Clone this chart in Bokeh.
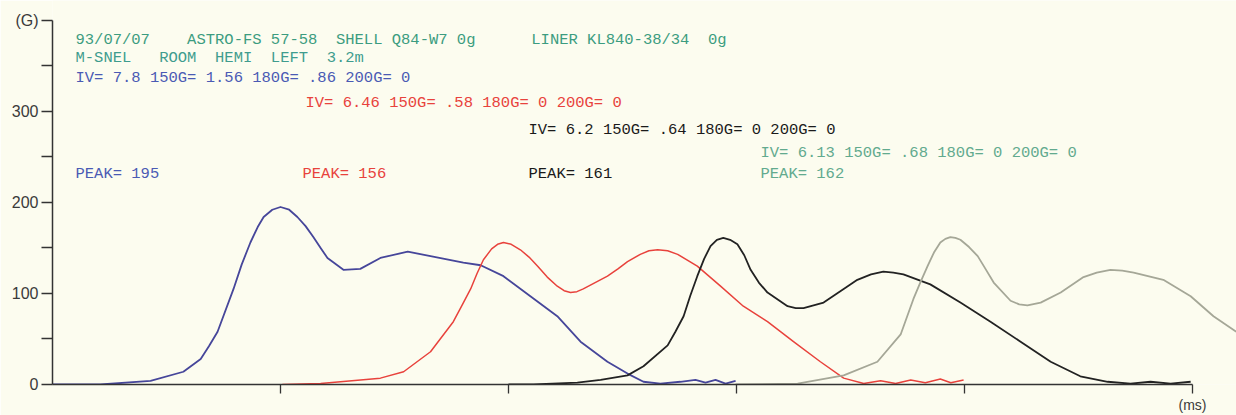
from bokeh.plotting import figure
from bokeh.models import FixedTicker, Range1d
from bokeh.core.properties import value
from bokeh.embed import file_html
from bokeh.resources import INLINE

# ---------------- data (time in ms, level in G) ----------------
blue_x = [0, 10.5, 21.5, 28.7, 32.5, 34.3, 36.2, 39.7, 41.5, 43.4, 45.0, 46.3, 48.2, 50.0, 51.9,
          53.7, 55.5, 57.2, 58.8, 60.3, 63.8, 67.5, 71.9, 77.9, 82.9, 90.1, 93.9, 98.9, 104.8,
          110.7, 115.8, 121.7, 126.1, 129.6, 133.3, 137.7, 141.0, 143.2, 145.4, 147.6, 149.8]
blue_y = [0, 0, 4, 14, 28, 42, 58, 105, 132, 156, 173, 184, 192, 195, 192,
          184, 174, 162, 150, 139, 126, 127, 139, 146, 141, 134, 131, 119, 97,
          75, 47, 25, 12, 3, 1, 3, 5, 2, 5, 1, 4]

red_x = [50.4, 58.8, 71.9, 77.0, 82.9, 87.9, 89.8, 91.7, 93.1, 94.5, 96.3, 97.6, 98.9, 100.6,
         102.6, 104.5, 106.4, 108.5, 110.7, 112.2, 113.6, 115.0, 116.4, 121.7, 124.0, 126.1,
         128.9, 130.8, 132.7, 134.9, 137.1, 141.4, 146.5, 151.5, 156.8, 162.5, 168.4, 173.5,
         177.9, 181.6, 184.9, 188.2, 191.4, 194.7, 197.0, 199.8]
red_y = [0, 1, 7, 14, 36, 69, 87, 105, 122, 137, 149, 154, 156, 154,
         148, 140, 130, 118, 108, 103, 101, 102, 105, 119, 127, 135,
         143, 147, 148, 147, 143, 130, 108, 86, 69, 47, 25, 7,
         1, 4, 1, 5, 2, 6, 2, 5]

black_x = [100, 105.5, 115.1, 120.2, 126.1, 129.6, 134.9, 136.6, 138.4, 139.9, 141.4, 142.9, 144.3,
           145.7, 147.1, 148.6, 150.2, 151.7, 153.1, 154.9, 156.8, 161.2, 163.0, 164.7, 169.1,
           173.5, 176.5, 179.5, 182.2, 184.4, 186.6, 192.5, 199.1, 205.7, 212.3, 218.9, 225.4,
           231.4, 236.4, 240.8, 245.2, 249.6]
black_y = [0, 0, 2, 5, 10, 20, 43, 58, 75, 98, 119, 138, 152,
           159, 161, 159, 154, 142, 126, 112, 101, 86, 84, 84, 90,
           105, 115, 121, 124, 123, 121, 110, 90, 69, 47, 25, 9,
           3, 1, 3, 1, 3]

gray_x = [149.8, 163.4, 173.5, 180.9, 186.0, 188.8, 190.3, 191.9, 193.3, 194.7, 195.8, 196.9,
          198.0, 199.1, 201.0, 202.9, 204.6, 206.4, 210.1, 212.0, 213.8, 216.7, 221.1, 226.1,
          229.0, 232.0, 234.6, 237.1, 243.6, 249.6, 254.6, 259.6]
gray_y = [0, 1, 10, 25, 55, 94, 112, 130, 145, 156, 160, 162,
          161, 159, 151, 141, 127, 112, 92, 88, 87, 90, 101, 118,
          123, 126, 125, 123, 115, 97, 75, 58]

y_ticks = [0, 100, 200, 300, 400]
y_minor = [50, 150, 250, 350]
y_tick_labels = {0: "0", 100: "100", 200: "200", 300: "300", 400: "(G)"}
x_end_tick = [250]
x_minor = [50, 100, 150, 200]
x_tick_labels = {250: "(ms)"}

header_lines = [
    "93/07/07    ASTRO-FS 57-58  SHELL Q84-W7 0g      LINER KL840-38/34  0g",
    "M-SNEL   ROOM  HEMI  LEFT  3.2m",
]
iv_lines = [
    "IV= 7.8 150G= 1.56 180G= .86 200G= 0",
    "IV= 6.46 150G= .58 180G= 0 200G= 0",
    "IV= 6.2 150G= .64 180G= 0 200G= 0",
    "IV= 6.13 150G= .68 180G= 0 200G= 0",
]
peak_values = [195, 156, 161, 162]

# ---------------- style / layout ----------------
BG = "#fcfcef"
series_colors = ["#46469a", "#e8423c", "#222222", "#a5a797"]
text_colors = ["#4a5ab4", "#e8423c", "#1a1a1a", "#62aa8e"]
header_color = "#3c9c80"
MONO = "Liberation Mono"

W, H = 1236, 415
PX_PER_MS = 4.56
PX_PER_G = 0.915
LEFT_PX = 52      # canvas x of time 0
ZERO_PX = 386     # canvas y of level 0


def X(px):
    return (px - LEFT_PX) / PX_PER_MS


def Y(py):
    return (ZERO_PX - py) / PX_PER_G


p = figure(width=W, height=H, output_backend="svg", toolbar_location=None,
           x_range=Range1d(0, (W - LEFT_PX) / PX_PER_MS),
           y_range=Range1d(0, ZERO_PX / PX_PER_G),
           min_border_left=LEFT_PX, min_border_right=0, min_border_top=0,
           min_border_bottom=H - ZERO_PX)
p.background_fill_color = BG
p.border_fill_color = BG
p.outline_line_color = None
p.xgrid.visible = False
p.ygrid.visible = False

# curves
for xs, ys, c, w in [(blue_x, blue_y, series_colors[0], 1.8),
                     (red_x, red_y, series_colors[1], 1.5),
                     (black_x, black_y, series_colors[2], 1.8),
                     (gray_x, gray_y, series_colors[3], 1.8)]:
    p.line(xs, ys, line_color=c, line_width=w, line_join="round")

# axes
ya = p.yaxis[0]
ya.ticker = FixedTicker(ticks=y_ticks, minor_ticks=y_minor)
ya.major_label_overrides = y_tick_labels
ya.bounds = (0, 400)
ya.major_tick_in = 0
ya.major_tick_out = 11
ya.minor_tick_in = 0
ya.minor_tick_out = 11
ya.major_label_standoff = 3
ya.major_label_text_font = "Liberation Sans"
ya.major_label_text_font_size = "16px"
ya.major_label_text_color = "#3a3a3a"
ya.axis_line_color = "#333333"
ya.axis_line_width = 1.5
ya.major_tick_line_color = "#333333"
ya.minor_tick_line_color = "#333333"
ya.major_tick_line_width = 1.3
ya.minor_tick_line_width = 1.3

xa = p.xaxis[0]
xa.ticker = FixedTicker(ticks=x_end_tick, minor_ticks=x_minor)
xa.major_label_overrides = x_tick_labels
xa.bounds = (0, 250)
xa.major_tick_in = 0
xa.major_tick_out = 9
xa.minor_tick_in = 0
xa.minor_tick_out = 9
xa.major_label_standoff = 3
xa.major_label_text_font = "Liberation Sans"
xa.major_label_text_font_size = "14px"
xa.major_label_text_color = "#3a3a3a"
xa.axis_line_color = "#333333"
xa.axis_line_width = 1.5
xa.major_tick_line_color = "#333333"
xa.minor_tick_line_color = "#333333"
xa.major_tick_line_width = 1.3
xa.minor_tick_line_width = 1.3

NBSP = "\u00a0"


# annotation texts
def add_text(s, px, py, color):
    p.text(x=[X(px)], y=[Y(py)], text=[s.replace(" ", NBSP)], text_color=color,
           text_font=value(MONO), text_font_size=value("15.5px"),
           text_baseline="middle", text_align="left")


add_text(header_lines[0], 75, 40, header_color)
add_text(header_lines[1], 75, 58, "#3f9c8e")

iv_pos = [(75, 78), (305, 103), (528, 130), (760, 153)]
peak_pos = [75, 302, 528, 760]
for i in range(4):
    add_text(iv_lines[i], iv_pos[i][0], iv_pos[i][1], text_colors[i])
    add_text("PEAK= %d" % peak_values[i], peak_pos[i], 174, text_colors[i])

open("out.html", "w").write(file_html(p, INLINE))
